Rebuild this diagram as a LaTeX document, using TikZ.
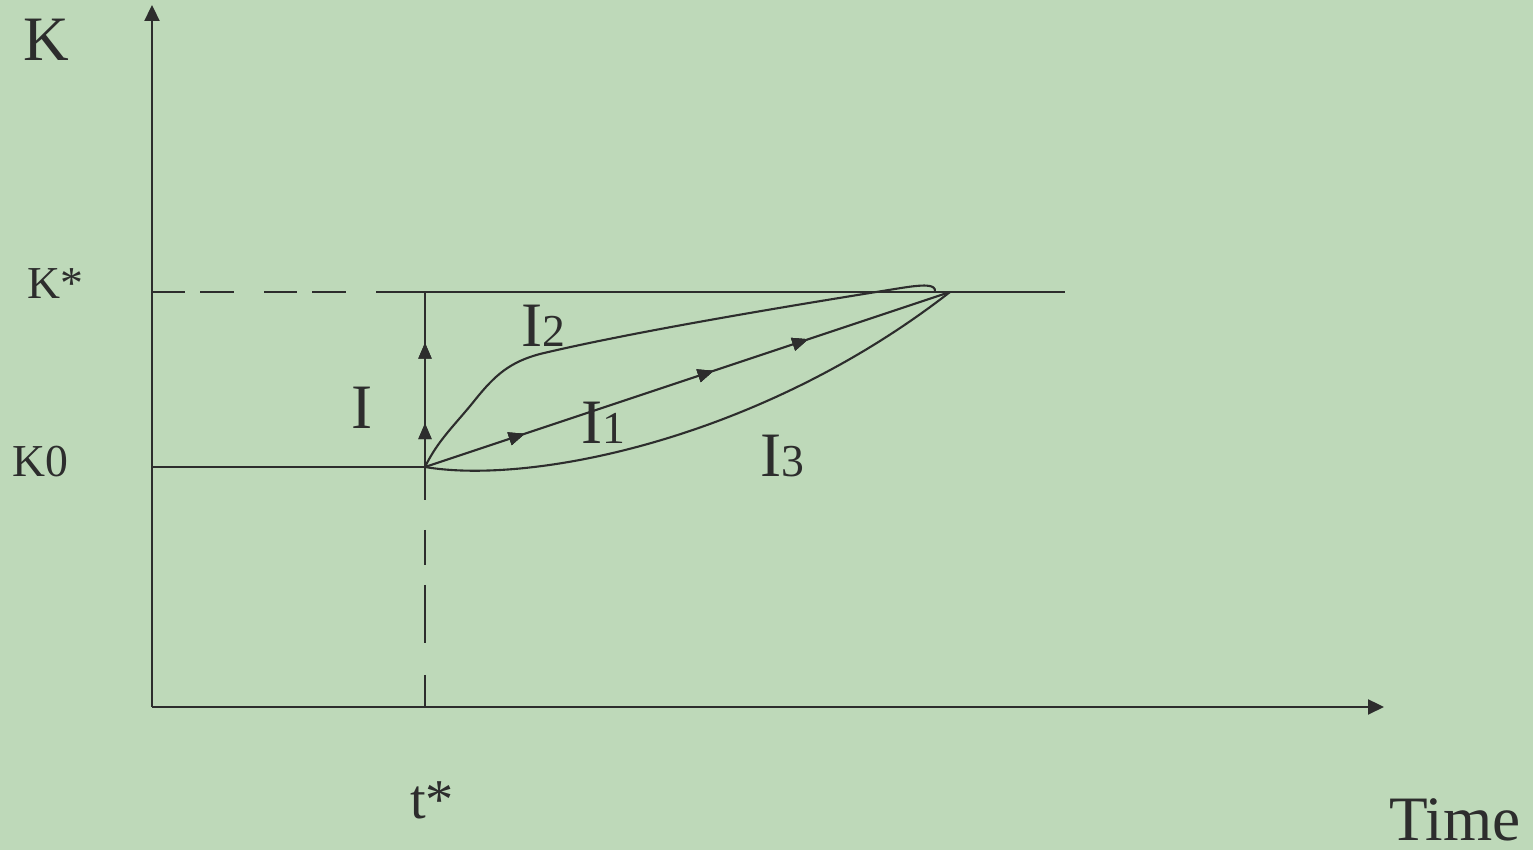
\documentclass[tikz,border=0pt]{standalone}
\usepackage{fontspec}
\setmainfont{Liberation Serif}
\usepackage{tikz}
\usetikzlibrary{arrows.meta, decorations.markings}
\definecolor{BgGreen}{RGB}{190,217,185}
\definecolor{InkGray}{RGB}{45,45,45}

\begin{document}
\begin{tikzpicture}[
          ln/.style={draw=InkGray, line width=0.6pt},
          axis/.style={ln, -{Triangle[length=0.16cm, width=0.15cm]}},
          dashln/.style={ln, dash pattern=on 0.33cm off 0.15cm on 0.34cm off 0.30cm},
          dashvert/.style={ln, dash pattern=on 0.33cm off 0.30cm on 0.35cm off 0.20cm
                           on 0.58cm off 0.32cm},
          midarr/.style={ln, postaction={decorate}, decoration={markings,
                         mark=at position #1 with {\arrow{Triangle[length=0.16cm, width=0.13cm]}}}},
          big/.style={text=InkGray, font=\fontsize{18}{20}\selectfont, inner sep=0pt},
          small/.style={text=InkGray, font=\fontsize{13}{15}\selectfont, inner sep=0pt}
        ]
        \fill[BgGreen] (0,0) rectangle (15.33,8.5);
        \useasboundingbox (0,0) rectangle (15.33,8.5);

        % points
        \coordinate (O)    at (1.52,1.43);
        \coordinate (ytip) at (1.52,8.45);
        \coordinate (xtip) at (13.84,1.43);
        \coordinate (k0l)  at (1.52,3.83);
        \coordinate (t0)   at (4.25,3.83);
        \coordinate (tb)   at (4.25,1.43);
        \coordinate (ksl)  at (1.52,5.58);
        \coordinate (ksd)  at (3.76,5.58);
        \coordinate (kst)  at (4.25,5.58);
        \coordinate (kse)  at (10.65,5.58);
        \coordinate (E)    at (9.50,5.58);

        % axes
        \draw[axis] (O) -- (ytip);
        \draw[axis] (O) -- (xtip);

        % levels
        \draw[dashln] (ksl) -- (ksd);
        \draw[ln] (ksd) -- (kse);
        \draw[ln] (k0l) -- (t0);
        \draw[dashvert] (t0) -- (tb);
        \draw[midarr/.list={0.25,0.71}] (t0) -- (kst);

        % paths
        \draw[midarr/.list={0.19,0.55,0.73}] (t0) -- (E);
        \draw[ln] (t0) .. controls (4.38,4.10) and (4.55,4.25) .. (4.75,4.50)
                  .. controls (4.95,4.75) and (5.10,4.88) .. (5.40,4.96)
                  .. controls (6.40,5.20) and (8.20,5.49) .. (8.95,5.61)
                  .. controls (9.25,5.66) and (9.36,5.66) .. (9.35,5.58);
        \draw[ln] (t0) .. controls (5.30,3.65) and (7.60,4.10) .. (E);

        % labels
        \node[big]   (lk)    at (0.46,8.10) {K};
        \node[small] (lks)   at (0.55,5.66) {K*};
        \node[small] (lk0)   at (0.40,3.88) {K0};
        \node[big]   (li)    at (3.62,4.42) {I};
        \node[big]   (li2)   at (5.43,5.24) {I{\fontsize{13}{15}\selectfont 2}};
        \node[big]   (li1)   at (6.03,4.27) {I{\fontsize{13}{15}\selectfont 1}};
        \node[big]   (li3)   at (7.82,3.94) {I{\fontsize{13}{15}\selectfont 3}};
        \node[text=InkGray, font=\fontsize{16}{18}\selectfont, inner sep=0pt]
              (lt)    at (4.32,0.50) {t*};
        \node[big]   (ltime) at (14.55,0.30) {Time};
      \end{tikzpicture}
\end{document}
